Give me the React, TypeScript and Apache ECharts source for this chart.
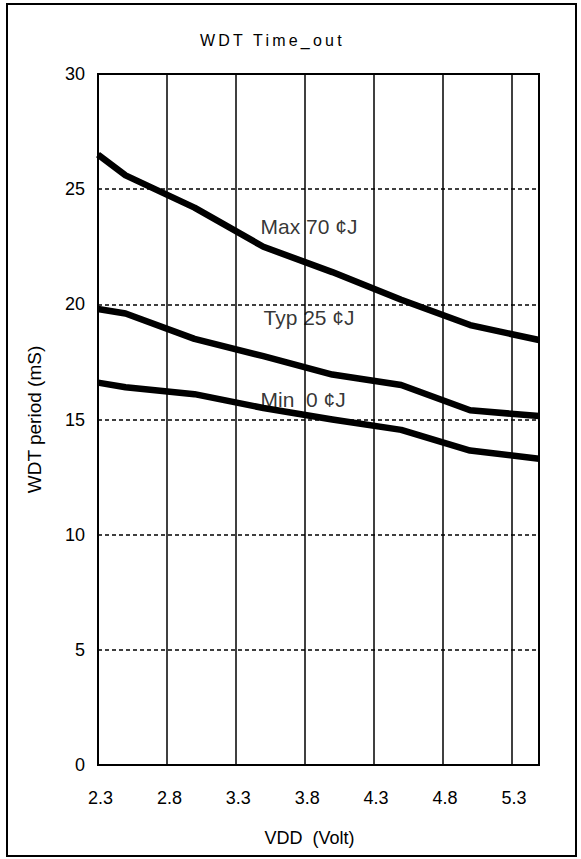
import React, { useEffect, useRef } from "react";
import * as echarts from "echarts";

const voltage = [2.3, 2.5, 3.0, 3.5, 4.0, 4.5, 5.0, 5.5];
const maxPeriod = [26.5, 25.6, 24.2, 22.5, 21.4, 20.2, 19.1, 18.45];
const typPeriod = [19.8, 19.6, 18.5, 17.75, 16.95, 16.5, 15.4, 15.15];
const minPeriod = [16.6, 16.4, 16.1, 15.5, 15.0, 14.55, 13.65, 13.3];

const annotationText = ["Max 70 ¢J", "Typ 25 ¢J", "Min  0 ¢J"];
const annotationX = [3.476, 3.497, 3.476];
const annotationY = [23.36, 19.41, 15.85];

const titleText = "WDT Time_out";
const xName = "VDD  (Volt)";
const yName = "WDT period (mS)";

const FONT = "'Liberation Sans', Arial, sans-serif";

export default function App() {
  const ref = useRef<HTMLDivElement>(null);
  useEffect(() => {
    if (!ref.current) return;
    const chart = echarts.init(ref.current, undefined, { renderer: "svg" });
    const line = (name: string, vals: number[]) => ({
      name,
      type: "line",
      data: voltage.map((v, i) => [v, vals[i]]),
      showSymbol: false,
      symbol: "none",
      lineStyle: { color: "#000", width: 6.5, join: "round" },
      itemStyle: { color: "#000" },
      z: 3,
    });
    chart.setOption({
      animation: false,
      backgroundColor: "#fff",
      textStyle: { fontFamily: FONT, color: "#000" },
      grid: {
        left: 98,
        top: 74,
        width: 441,
        height: 691,
        show: true,
        borderColor: "#000",
        borderWidth: 2,
        backgroundColor: "transparent",
        z: 4,
      },
      xAxis: {
        type: "value",
        min: 2.3,
        max: 5.5,
        interval: 0.5,
        name: xName,
        nameLocation: "middle",
        nameGap: 64,
        nameTextStyle: { fontSize: 18, color: "#000", fontFamily: FONT, padding: [0, 18, 0, 0] },
        axisLine: { show: true, lineStyle: { color: "#000", width: 2 } },
        axisTick: { show: false },
        axisLabel: {
          fontSize: 18,
          color: "#000",
          fontFamily: FONT,
          margin: 24,
          showMaxLabel: false,
          formatter: (v: number) => v.toFixed(1),
          padding: [0, 0, 0, 5],
        },
        splitLine: { show: true, lineStyle: { color: "#000", width: 1.5, type: "solid" } },
      },
      yAxis: {
        type: "value",
        min: 0,
        max: 30,
        interval: 5,
        name: yName,
        nameLocation: "middle",
        nameGap: 54,
        nameRotate: 90,
        nameTextStyle: { fontSize: 19, color: "#000", fontFamily: FONT },
        axisLine: { show: true, lineStyle: { color: "#000", width: 2 } },
        axisTick: { show: false },
        axisLabel: { fontSize: 18, color: "#000", fontFamily: FONT, margin: 13 },
        splitLine: { show: true, lineStyle: { color: "#000", width: 1.5, type: [4, 3] } },
      },
      series: [
        line("Max", maxPeriod),
        line("Typ", typPeriod),
        line("Min", minPeriod),
        {
          name: "labels",
          type: "scatter",
          symbolSize: 1,
          itemStyle: { color: "rgba(0,0,0,0)" },
          data: annotationText.map((t, i) => ({ value: [annotationX[i], annotationY[i]], name: t })),
          label: {
            show: true,
            position: "right",
            distance: 0,
            formatter: (p: any) => p.name,
            fontSize: 21,
            color: "#000",
            fontFamily: FONT,
          },
          z: 5,
        },
      ],
      graphic: [
        {
          type: "rect",
          shape: { x: 7, y: 4, width: 569, height: 852 },
          style: { fill: "none", stroke: "#000", lineWidth: 2 },
          z: 10,
        },
        {
          type: "text",
          x: 200,
          y: 40,
          style: {
            text: titleText,
            fontSize: 16,
            fontFamily: FONT,
            fill: "#000",
            align: "left",
            verticalAlign: "middle",
          },
          z: 10,
        },
      ],
    });
    ref.current.querySelectorAll("text").forEach((t) => {
      if (t.textContent === titleText) t.setAttribute("letter-spacing", "3.2");
    });
    return () => chart.dispose();
  }, []);
  return (
    <div
      ref={ref}
      style={{ position: "absolute", left: 0, top: 0, width: 581, height: 859 }}
    />
  );
}
